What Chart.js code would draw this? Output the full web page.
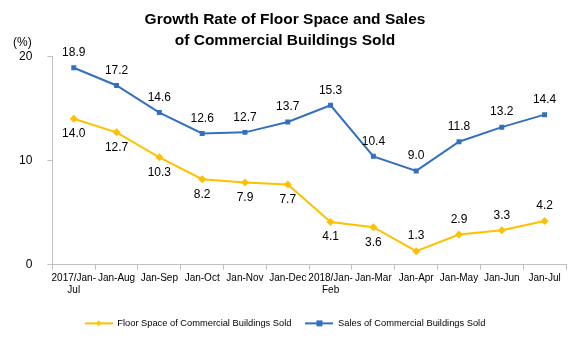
<!DOCTYPE html>
<html>
<head>
<meta charset="utf-8">
<script src="https://cdn.jsdelivr.net/npm/chart.js@4"></script>
<style>
  html, body { margin: 0; padding: 0; background: #fff; }
  #wrap { width: 578px; height: 338px; }
</style>
</head>
<body>
<div id="wrap"><canvas id="growth"></canvas></div>
<script>
const months = [['2017/Jan-', 'Jul'], 'Jan-Aug', 'Jan-Sep', 'Jan-Oct', 'Jan-Nov', 'Jan-Dec',
  ['2018/Jan-', 'Feb'], 'Jan-Mar', 'Jan-Apr', 'Jan-May', 'Jan-Jun', 'Jan-Jul'];
const floorSpace = [14.0, 12.7, 10.3, 8.2, 7.9, 7.7, 4.1, 3.6, 1.3, 2.9, 3.3, 4.2];
const salesValue = [18.9, 17.2, 14.6, 12.6, 12.7, 13.7, 15.3, 10.4, 9.0, 11.8, 13.2, 14.4];
// floor space labels sit under the line until Jan-Apr, then above
const floorLabelBelow = [true, true, true, true, true, true, true, true, false, false, false, false];

const YELLOW = '#FFC000';
const BLUE = '#3370C0';
const AXIS = '#BFBFBF';
const FONT = 'Arial, "Liberation Sans", sans-serif';

function legendIcon(color, shape) {
  const c = document.createElement('canvas');
  c.width = 28; c.height = 10;
  const g = c.getContext('2d');
  g.strokeStyle = color; g.lineWidth = 2;
  g.beginPath(); g.moveTo(0, 5); g.lineTo(28, 5); g.stroke();
  g.fillStyle = color;
  if (shape === 'diamond') {
    g.beginPath(); g.moveTo(14, 2); g.lineTo(17, 5); g.lineTo(14, 8); g.lineTo(11, 5); g.closePath(); g.fill();
  } else {
    g.fillRect(11, 2, 6, 6);
  }
  return c;
}

const valueLabels = {
  id: 'valueLabels',
  afterDatasetsDraw(chart) {
    const ctx = chart.ctx;
    ctx.save();
    ctx.font = '12px ' + FONT;
    ctx.fillStyle = '#000';
    ctx.textAlign = 'center';
    ctx.textBaseline = 'middle';
    chart.data.datasets.forEach((ds, di) => {
      chart.getDatasetMeta(di).data.forEach((pt, i) => {
        const below = di === 0 && floorLabelBelow[i];
        const y = below ? pt.y + 15 : pt.y - 15;
        ctx.fillText(ds.data[i].toFixed(1), pt.x, y);
      });
    });
    // unit label above the value axis
    ctx.textAlign = 'left';
    ctx.fillText('(%)', 13, 43);
    ctx.restore();
  }
};

new Chart(document.getElementById('growth'), {
  type: 'line',
  data: {
    labels: months,
    datasets: [
      {
        label: 'Floor Space of Commercial Buildings Sold',
        data: floorSpace,
        borderColor: YELLOW,
        backgroundColor: YELLOW,
        borderWidth: 2,
        pointStyle: 'rectRot',
        pointRadius: 4,
        pointBorderWidth: 0,
        tension: 0
      },
      {
        label: 'Sales of Commercial Buildings Sold',
        data: salesValue,
        borderColor: BLUE,
        backgroundColor: BLUE,
        borderWidth: 2,
        pointStyle: 'rect',
        pointRadius: 3.5,
        pointBorderWidth: 0,
        tension: 0
      }
    ]
  },
  options: {
    responsive: true,
    maintainAspectRatio: false,
    animation: false,
    layout: { padding: { top: 6, right: 12, left: 4, bottom: 0 } },
    plugins: {
      title: {
        display: true,
        text: ['Growth Rate of Floor Space and Sales', 'of Commercial Buildings Sold'],
        font: { family: FONT, size: 15.5, weight: 'bold', lineHeight: 1.3 },
        color: '#000',
        padding: { top: 4, bottom: 6 }
      },
      legend: {
        position: 'bottom',
        labels: {
          usePointStyle: true,
          pointStyleWidth: 28,
          color: '#000',
          font: { family: FONT, size: 9.3 },
          padding: 14,
          generateLabels(chart) {
            return chart.data.datasets.map((ds, i) => ({
              text: ds.label,
              pointStyle: legendIcon(ds.borderColor, i === 0 ? 'diamond' : 'square'),
              fillStyle: ds.borderColor,
              strokeStyle: ds.borderColor,
              lineWidth: 0,
              fontColor: '#000',
              datasetIndex: i
            }));
          }
        }
      },
      tooltip: { enabled: false }
    },
    scales: {
      x: {
        offset: true,
        grid: { offset: true, drawOnChartArea: false, color: AXIS, tickLength: 5 },
        border: { color: AXIS },
        ticks: { color: '#000', font: { family: FONT, size: 10 }, maxRotation: 0, autoSkip: false, padding: 3 },
        // extra room between the category labels and the legend
        afterFit(scale) { scale.height += 5; }
      },
      y: {
        min: 0,
        max: 20,
        grid: { drawOnChartArea: false, color: AXIS, tickLength: 5 },
        border: { color: AXIS },
        ticks: { stepSize: 10, color: '#000', font: { family: FONT, size: 12 }, padding: 15 }
      }
    }
  },
  plugins: [valueLabels]
});
</script>
</body>
</html>
